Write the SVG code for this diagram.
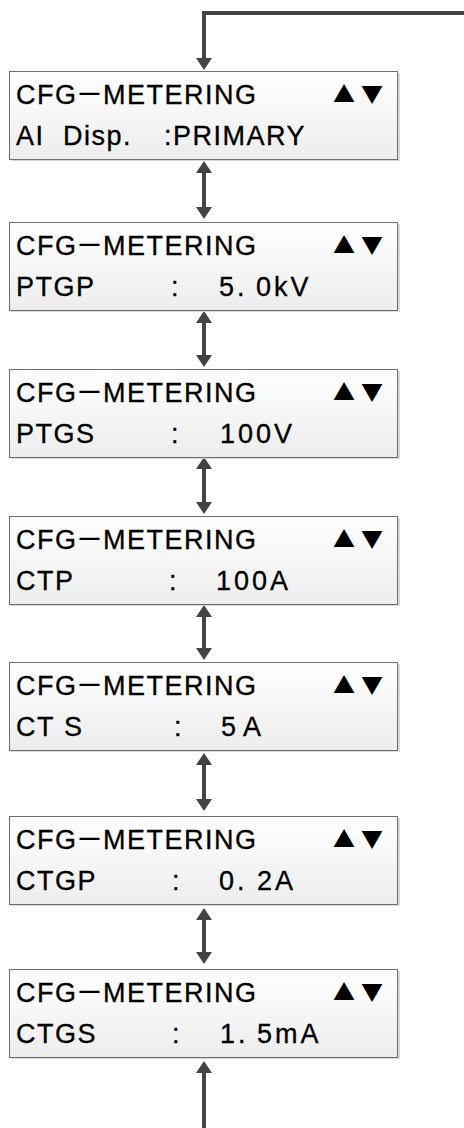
<svg xmlns="http://www.w3.org/2000/svg" width="464" height="1128" viewBox="0 0 464 1128">
<defs>
<linearGradient id="bg" x1="0" y1="0" x2="0" y2="1">
<stop offset="0" stop-color="#ffffff"/>
<stop offset="1" stop-color="#ededed"/>
</linearGradient>
<marker id="ah" viewBox="0 0 12 16" refX="1" refY="8" markerWidth="12" markerHeight="16" markerUnits="userSpaceOnUse" orient="auto-start-reverse">
<path d="M0,0 L12,8 L0,16 z" fill="#444444"/>
</marker>
<g id="frame">
<rect x="11" y="2" width="389" height="88" fill="#d9d9d9"/>
<rect x="9.5" y="0.5" width="388" height="88" fill="url(#bg)" stroke="#6e6e6e" stroke-width="1"/>
</g>
</defs>
<style>
text{font-family:"Liberation Sans",Arial,"Noto Sans CJK JP",sans-serif;font-size:27px;fill:#000000;stroke:#000000;stroke-width:0.3px;letter-spacing:1.5px}
.v{letter-spacing:3px}
.tri{font-family:"Noto Sans CJK JP",sans-serif;font-size:22px;letter-spacing:0;stroke:none}
.c{fill:none;stroke:#444444;stroke-width:4}
</style>
<g id="connectors">
<path class="c" d="M464,13 H204 V59" marker-end="url(#ah)"/>
<path class="c" d="M204,172 V208" marker-start="url(#ah)" marker-end="url(#ah)"/>
<path class="c" d="M204,322 V356" marker-start="url(#ah)" marker-end="url(#ah)"/>
<path class="c" d="M204,468 V503" marker-start="url(#ah)" marker-end="url(#ah)"/>
<path class="c" d="M204,616 V649" marker-start="url(#ah)" marker-end="url(#ah)"/>
<path class="c" d="M204,764 V800" marker-start="url(#ah)" marker-end="url(#ah)"/>
<path class="c" d="M204,919 V953" marker-start="url(#ah)" marker-end="url(#ah)"/>
<path class="c" d="M204,1128 V1072" marker-end="url(#ah)"/>
</g>
<g id="node1" transform="translate(0,71)">
<use href="#frame"/>
<text y="33"><tspan x="16">CFG</tspan><tspan x="76">－</tspan><tspan x="103">METERING</tspan></text>
<text class="tri" y="31"><tspan x="333">▲</tspan><tspan x="361">▼</tspan></text>
<text y="74"><tspan x="16">AI</tspan><tspan x="63">Disp.</tspan><tspan x="164">:PRIMARY</tspan></text>
</g>
<g id="node2" transform="translate(0,222)">
<use href="#frame"/>
<text y="33"><tspan x="16">CFG</tspan><tspan x="76">－</tspan><tspan x="103">METERING</tspan></text>
<text class="tri" y="31"><tspan x="333">▲</tspan><tspan x="361">▼</tspan></text>
<text y="74"><tspan x="16">PTGP</tspan><tspan x="171">:</tspan><tspan class="v" x="219">5.</tspan><tspan class="v" x="256">0kV</tspan></text>
</g>
<g id="node3" transform="translate(0,369)">
<use href="#frame"/>
<text y="33"><tspan x="16">CFG</tspan><tspan x="76">－</tspan><tspan x="103">METERING</tspan></text>
<text class="tri" y="31"><tspan x="333">▲</tspan><tspan x="361">▼</tspan></text>
<text y="74"><tspan x="16">PTGS</tspan><tspan x="171">:</tspan><tspan class="v" x="220">100V</tspan></text>
</g>
<g id="node4" transform="translate(0,516)">
<use href="#frame"/>
<text y="33"><tspan x="16">CFG</tspan><tspan x="76">－</tspan><tspan x="103">METERING</tspan></text>
<text class="tri" y="31"><tspan x="333">▲</tspan><tspan x="361">▼</tspan></text>
<text y="74"><tspan x="16">CTP</tspan><tspan x="169">:</tspan><tspan class="v" x="216">100A</tspan></text>
</g>
<g id="node5" transform="translate(0,662)">
<use href="#frame"/>
<text y="33"><tspan x="16">CFG</tspan><tspan x="76">－</tspan><tspan x="103">METERING</tspan></text>
<text class="tri" y="31"><tspan x="333">▲</tspan><tspan x="361">▼</tspan></text>
<text y="74"><tspan x="16">CT</tspan><tspan x="64">S</tspan><tspan x="174">:</tspan><tspan x="221">5</tspan><tspan x="243">A</tspan></text>
</g>
<g id="node6" transform="translate(0,816)">
<use href="#frame"/>
<text y="33"><tspan x="16">CFG</tspan><tspan x="76">－</tspan><tspan x="103">METERING</tspan></text>
<text class="tri" y="31"><tspan x="333">▲</tspan><tspan x="361">▼</tspan></text>
<text y="74"><tspan x="16">CTGP</tspan><tspan x="172">:</tspan><tspan class="v" x="219">0.</tspan><tspan class="v" x="257">2A</tspan></text>
</g>
<g id="node7" transform="translate(0,969)">
<use href="#frame"/>
<text y="33"><tspan x="16">CFG</tspan><tspan x="76">－</tspan><tspan x="103">METERING</tspan></text>
<text class="tri" y="31"><tspan x="333">▲</tspan><tspan x="361">▼</tspan></text>
<text y="74"><tspan x="16">CTGS</tspan><tspan x="172">:</tspan><tspan class="v" x="220">1.</tspan><tspan class="v" x="257">5mA</tspan></text>
</g>
</svg>
